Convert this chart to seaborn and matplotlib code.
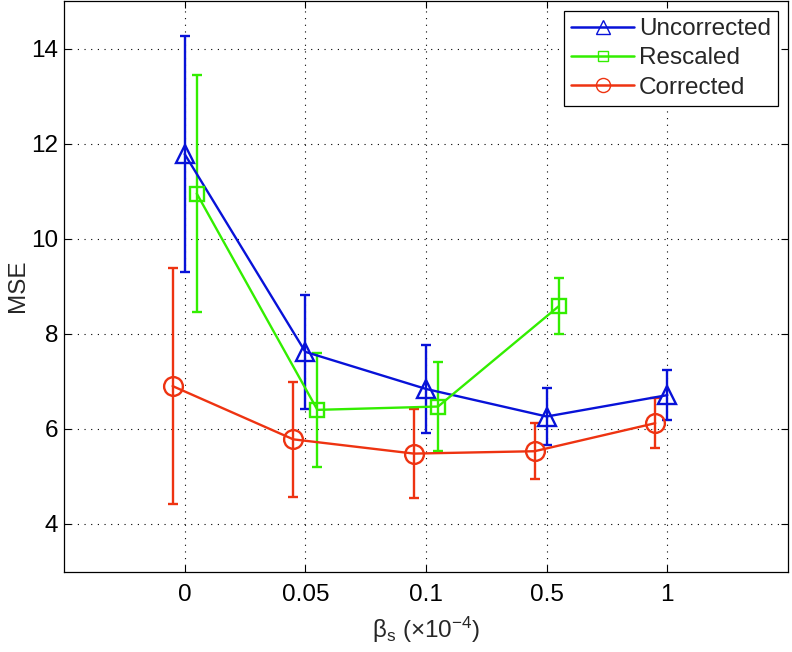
import numpy as np
import pandas as pd
import matplotlib
matplotlib.use("Agg")
import matplotlib.pyplot as plt
import seaborn as sns
from matplotlib.lines import Line2D

# ---- data ----
categories = ["0", "0.05", "0.1", "0.5", "1"]
uncorrected = [11.78, 7.62, 6.84, 6.26, 6.71]
uncorrected_err = [2.49, 1.20, 0.93, 0.59, 0.53]
rescaled = [10.95, 6.40, 6.47, 8.58]
rescaled_err = [2.49, 1.20, 0.93, 0.59]
corrected = [6.90, 5.78, 5.48, 5.53, 6.12]
corrected_err = [2.49, 1.21, 0.94, 0.59, 0.53]

series_names = ["Uncorrected", "Rescaled", "Corrected"]
colors = {"Uncorrected": "#0812d8", "Rescaled": "#33ee00", "Corrected": "#ee3311"}
markers = {"Uncorrected": "^", "Rescaled": "s", "Corrected": "o"}
msizes = {"Uncorrected": 13, "Rescaled": 10, "Corrected": 13.5}
offsets = {"Uncorrected": 0.0, "Rescaled": 0.1, "Corrected": -0.1}

rows = []
for name, vals, errs in [("Uncorrected", uncorrected, uncorrected_err),
                         ("Rescaled", rescaled, rescaled_err),
                         ("Corrected", corrected, corrected_err)]:
    for i, (v, e) in enumerate(zip(vals, errs)):
        rows.append({"series": name, "pos": i + 1 + offsets[name], "mse": v, "err": e})
df = pd.DataFrame(rows)

sns.set_style("ticks")
plt.rcParams["font.family"] = ["Liberation Sans", "DejaVu Sans"]
plt.rcParams["mathtext.fontset"] = "custom"
plt.rcParams["mathtext.rm"] = "Liberation Sans"
plt.rcParams["mathtext.it"] = "Liberation Sans:italic"

fig = plt.figure(figsize=(7.92, 6.52), dpi=100)
ax = fig.add_axes([64 / 792, (652 - 571.5) / 652, (788 - 64) / 792, (570.5) / 652])

for name in series_names:
    sub = df[df.series == name]
    ax.errorbar(sub["pos"], sub["mse"], yerr=sub["err"], fmt="none",
                ecolor=colors[name], elinewidth=1.7, capsize=3.6, capthick=1.7, zorder=3)
    sns.lineplot(data=sub, x="pos", y="mse", ax=ax, color=colors[name],
                 marker=markers[name], markersize=msizes[name], markerfacecolor="none",
                 markeredgecolor=colors[name], markeredgewidth=1.7, linewidth=1.7,
                 estimator=None, sort=False, legend=False, zorder=4)

ax.set_xlim(0, 6)
ax.set_ylim(3, 15)
ax.set_xticks(range(1, len(categories) + 1))
ax.set_xticklabels(categories)
ax.set_yticks([4, 6, 8, 10, 12, 14])
ax.grid(True, color="black", linestyle=(0, (1, 5)), linewidth=0.8)
ax.tick_params(direction="in", length=5, width=0.8, top=True, right=True,
               labelsize=17.5, colors="black")
ax.tick_params(axis="x", pad=9)
ax.tick_params(axis="y", pad=4)
for s in ax.spines.values():
    s.set_linewidth(0.9)
    s.set_color("black")

ax.set_xlabel("β$_{\\rm s}$ (×10$^{-4}$)", fontsize=17.5, labelpad=6)
ax.set_ylabel("MSE", fontsize=17.5, labelpad=2)

handles = [Line2D([0], [0], color=colors[n], marker=markers[n], markerfacecolor="none",
                  markeredgecolor=colors[n], markersize=msizes[n] * 0.75,
                  markeredgewidth=1.0, linewidth=1.8) for n in series_names]
leg = ax.legend(handles, series_names, loc="upper right", fontsize=17.5, frameon=True,
                fancybox=False, edgecolor="black", framealpha=1, handlelength=2.6,
                handletextpad=0.2, borderpad=0.3, labelspacing=0.3,
                borderaxespad=0.4)
leg.get_frame().set_linewidth(0.9)

fig.savefig("out.png", dpi=100)
